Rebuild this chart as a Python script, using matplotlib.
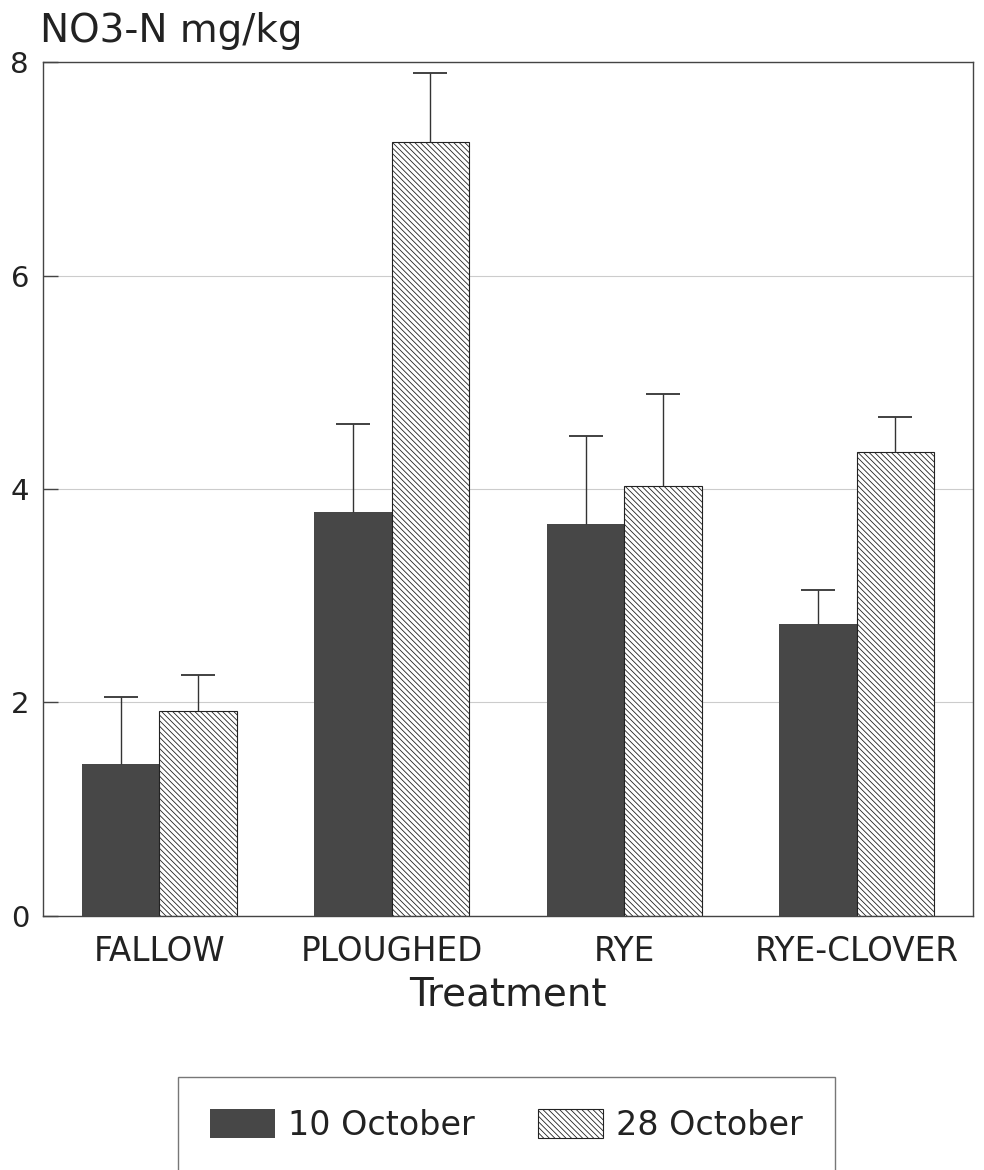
import numpy as np
import matplotlib
matplotlib.use('Agg')
import matplotlib.pyplot as plt

# soil nitrate by treatment, two sampling dates
treatments = ['FALLOW', 'PLOUGHED', 'RYE', 'RYE-CLOVER']
oct10 = [1.42, 3.78, 3.67, 2.74]
oct10_se = [0.63, 0.83, 0.83, 0.31]
oct28 = [1.92, 7.25, 4.03, 4.35]
oct28_se = [0.34, 0.65, 0.86, 0.32]
dates = ['10 October', '28 October']

plt.rcParams['font.family'] = 'DejaVu Sans'
plt.rcParams['hatch.linewidth'] = 0.6
plt.rcParams['hatch.color'] = '#222222'

fig = plt.figure(figsize=(9.84, 11.7), dpi=100)
ax = fig.add_axes([0.0437, 0.2171, 0.9451, 0.7299])

x = np.arange(len(treatments))
w = 0.333

b1 = ax.bar(x - w/2, oct10, w, color='#474747', edgecolor='none', zorder=2, label=dates[0])
b2 = ax.bar(x + w/2, oct28, w, color='white', edgecolor='#222222', linewidth=0.8,
            hatch='\\\\\\\\\\\\', zorder=2, label=dates[1])

# upper error bars only
for xs, ys, es in [(x - w/2, oct10, oct10_se), (x + w/2, oct28, oct28_se)]:
    eb = ax.errorbar(xs, ys, yerr=[np.zeros(len(es)), es], fmt='none', ecolor='#333333',
                     elinewidth=1.0, capsize=12.5, capthick=1.3, zorder=3)
    eb[1][0].set_visible(False)

ax.set_xlim(-0.5, 3.5)
ax.set_ylim(0, 8)
ax.set_yticks([0, 2, 4, 6, 8])
ax.set_xticks(x)
ax.set_xticklabels(treatments, fontsize=23.5, color='#222222')
ax.tick_params(axis='x', length=0, pad=14)
ax.tick_params(axis='y', direction='in', length=11, width=1, color='#444444',
               labelsize=21, pad=10, labelcolor='#222222')
ax.yaxis.grid(True, color='#cccccc', linewidth=0.8, zorder=0)
ax.set_axisbelow(True)
for s in ax.spines.values():
    s.set_color('#444444')
    s.set_linewidth(1.0)

fig.text(40/984, 1 - 42/1170, 'NO3-N mg/kg', fontsize=28, color='#222222', va='baseline', ha='left')
fig.text(508/984, 1 - 995/1170, 'Treatment', fontsize=28, color='#222222', ha='center', va='center')

leg = fig.legend(handles=[b1, b2], labels=dates, loc='upper left',
                 bbox_to_anchor=(178/984, 1 - 1077/1170), ncol=2, fontsize=24,
                 frameon=True, fancybox=False, borderpad=0.95, handlelength=1.95,
                 handleheight=0.96, handletextpad=0.4, columnspacing=1.9, borderaxespad=0)
leg.get_frame().set_edgecolor('#555555')
leg.get_frame().set_linewidth(1.0)
for t in leg.get_texts():
    t.set_color('#222222')

fig.savefig('out.png', dpi=100)
